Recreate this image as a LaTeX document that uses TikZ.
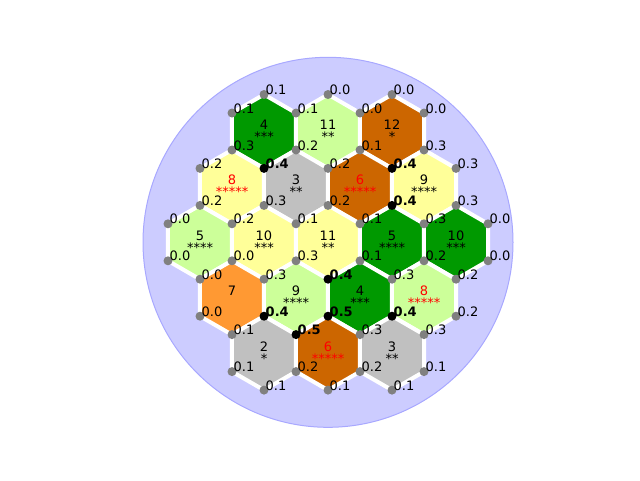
\documentclass[tikz,border=0pt]{standalone}
\usepackage{fontspec}
\setmainfont{DejaVu Sans}
\usepackage{tikz}

\definecolor{boardfill}{HTML}{CCCCFF}
\definecolor{boardedge}{HTML}{A8A8FF}
\definecolor{forest}{HTML}{009900}
\definecolor{pasture}{HTML}{CCFF99}
\definecolor{field}{HTML}{FFFF99}
\definecolor{mountain}{HTML}{C0C0C0}
\definecolor{hill}{HTML}{CC6600}
\definecolor{desert}{HTML}{FF9933}

\tikzset{
  hexnum/.style={font=\fontsize{13}{15}\selectfont, anchor=base, inner sep=0pt},
  cornerdot/.style={circle, fill=gray, inner sep=0pt, minimum size=9pt},
  cornerval/.style={font=\fontsize{13}{15}\selectfont, anchor=base west, inner sep=0pt, xshift=1.5pt},
  bestval/.style={cornerval, font=\fontsize{13}{15}\selectfont\bfseries}
}

\begin{document}
\begin{tikzpicture}[x=1pt,y=-1pt]
    \useasboundingbox (0,0) rectangle (640,480);
    % board
    \draw[fill=boardfill, draw=boardedge, line width=1pt] (328,242.3) circle (185);
    % tiles
    \foreach \cx/\cy/\res/\num/\tc/\pips [count=\i] in {
        264/131.5/forest/4/black/***, 328/131.5/pasture/11/black/**, 392/131.5/hill/12/black/*,
        232/186.9/field/8/red/*****, 296/186.9/mountain/3/black/**, 360/186.9/hill/6/red/*****, 424/186.9/field/9/black/****,
        200/242.3/pasture/5/black/****, 264/242.3/field/10/black/***, 328/242.3/field/11/black/**, 392/242.3/forest/5/black/****, 456/242.3/forest/10/black/***,
        232/297.7/desert/7/black/{}, 296/297.7/pasture/9/black/****, 360/297.7/forest/4/black/***, 424/297.7/pasture/8/red/*****,
        264/353.1/mountain/2/black/*, 328/353.1/hill/6/red/*****, 392/353.1/mountain/3/black/**} {
      \draw[fill=\res, draw=white, line width=4pt] (\cx,\cy) +(90:37) -- +(30:37) -- +(-30:37)
        -- +(-90:37) -- +(-150:37) -- +(150:37) -- cycle;
      \node[hexnum, text=\tc] (num\i) at (\cx,\cy-2) {\num};
      \node[hexnum, text=\tc] (pips\i) at (\cx,\cy+10) {\pips};
    }
    % corners
    \foreach \x/\y/\v [count=\j] in {
        264/94.5/0.1, 328/94.5/0.0, 392/94.5/0.0,
        232/113/0.1, 296/113/0.1, 360/113/0.0, 424/113/0.0,
        232/150/0.3, 296/150/0.2, 360/150/0.1, 424/150/0.3,
        200/168.4/0.2, 328/168.4/0.2, 456/168.4/0.3,
        200/205.4/0.2, 264/205.4/0.3, 328/205.4/0.2, 456/205.4/0.3,
        168/223.8/0.0, 232/223.8/0.2, 296/223.8/0.1, 360/223.8/0.1, 424/223.8/0.3, 488/223.8/0.0,
        168/260.8/0.0, 232/260.8/0.0, 296/260.8/0.3, 360/260.8/0.1, 424/260.8/0.2, 488/260.8/0.0,
        200/279.2/0.0, 264/279.2/0.3, 392/279.2/0.3, 456/279.2/0.2,
        200/316.2/0.0, 456/316.2/0.2,
        232/334.6/0.1, 360/334.6/0.3, 424/334.6/0.3,
        232/371.6/0.1, 296/371.6/0.2, 360/371.6/0.2, 424/371.6/0.1,
        264/390.1/0.1, 328/390.1/0.1, 392/390.1/0.1} {
      \node[cornerdot] (c\j) at (\x,\y) {};
      \node[cornerval] (v\j) at (\x,\y) {\v};
    }
    % best corners
    \foreach \x/\y/\v [count=\k] in {
        264/168.4/0.4, 392/168.4/0.4, 392/205.4/0.4, 328/279.2/0.4,
        264/316.2/0.4, 328/316.2/0.5, 392/316.2/0.4, 296/334.6/0.5} {
      \node[cornerdot, fill=black] (b\k) at (\x,\y) {};
      \node[bestval] (bv\k) at (\x,\y) {\v};
    }
\end{tikzpicture}
\end{document}
